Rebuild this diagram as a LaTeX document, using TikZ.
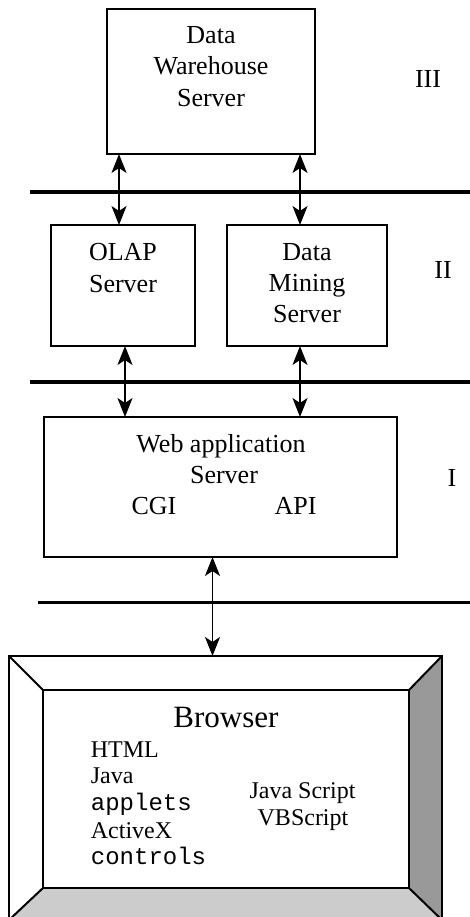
\documentclass[tikz,border=0pt]{standalone}
\usepackage{fontspec}
\setmainfont{Liberation Serif}
\setmonofont{Liberation Mono}
\usetikzlibrary{arrows.meta}
\begin{document}
\begin{tikzpicture}[x=1pt,y=1pt,
  box/.style={draw,line width=2pt,inner sep=0pt,outer sep=0pt},
  lbl/.style={anchor=base,inner sep=0pt,font=\fontsize{26}{31}\selectfont},
  btxt/.style={anchor=base west,inner sep=0pt,font=\fontsize{24}{27}\selectfont},
  bmono/.style={anchor=base west,inner sep=0pt,font=\fontsize{24}{27}\selectfont\ttfamily},
  bctr/.style={anchor=base,inner sep=0pt,font=\fontsize{24}{27}\selectfont},
  layer/.style={line width=4pt},
  arr/.style={line width=1.7pt,arrows={Stealth[length=19pt,width=15pt,inset=5pt]-Stealth[length=19pt,width=15pt,inset=5pt]}}]
\useasboundingbox (0,0) rectangle (470,-917);
\clip (0,0) rectangle (470,-917);

% boxes
\node[box,minimum width=208,minimum height=145] (dw) at (211,-81.5) {};
\node[box,minimum width=144,minimum height=121] (olap) at (123,-285.5) {};
\node[box,minimum width=160,minimum height=121] (dm) at (307,-285.5) {};
\node[box,minimum width=353,minimum height=140] (web) at (220.5,-487) {};

% box texts
\node[lbl] (t1) at (211,-43.5) {Data};
\node[lbl] (t2) at (211,-75) {Warehouse};
\node[lbl] (t3) at (211,-106.5) {Server};
\node[lbl] (t4) at (123,-260.5) {OLAP};
\node[lbl] (t5) at (123,-292) {Server};
\node[lbl] (t6) at (307,-260.5) {Data};
\node[lbl] (t7) at (307,-291.5) {Mining};
\node[lbl] (t8) at (307,-322.5) {Server};
\node[lbl] (t9) at (221,-452.5) {Web application};
\node[lbl] (t10) at (224,-483.5) {Server};
\node[lbl] (t11) at (154,-514) {CGI};
\node[lbl] (t12) at (295.5,-514) {API};

% tier labels
\node[lbl] (l3) at (428,-87.3) {III};
\node[lbl] (l2) at (443,-278.3) {II};
\node[lbl] (l1) at (452,-486) {I};

% layer lines
\draw[layer] (30,-192) -- (470,-192);
\draw[layer] (30,-382) -- (470,-382);
\draw[line width=3pt] (38,-602) -- (470,-602);

% browser
\node[inner sep=0pt,outer sep=0pt,minimum width=433,minimum height=264] (br) at (225.5,-788) {};
\node[inner sep=0pt,outer sep=0pt,minimum width=366,minimum height=198] (bri) at (226,-789) {};
\fill[black!20] (br.south west) -- (bri.south west) -- (bri.south east) -- (br.south east) -- cycle;
\fill[black!40] (br.south east) -- (bri.south east) -- (bri.north east) -- (br.north east) -- cycle;
\draw[line width=2pt] (br.south west) rectangle (br.north east);
\draw[line width=2pt] (bri.south west) rectangle (bri.north east);
\draw[line width=2pt] (br.north west) -- (bri.north west);
\draw[line width=2pt] (br.north east) -- (bri.north east);
\draw[line width=2pt] (br.south west) -- (bri.south west);
\draw[line width=2pt] (br.south east) -- (bri.south east);

\node[anchor=base,inner sep=0pt,font=\fontsize{31}{36}\selectfont] (bt) at (226,-727.3) {Browser};
\node[btxt] (b1) at (90.7,-757) {HTML};
\node[btxt] (b2) at (90.7,-783) {Java};
\node[bmono] (b3) at (90.7,-810) {applets};
\node[btxt] (b4) at (90.7,-838) {ActiveX};
\node[bmono] (b5) at (90.7,-864) {controls};
\node[bctr] (b6) at (302.5,-798) {Java Script};
\node[bctr] (b7) at (303,-825) {VBScript};

% connectors
\coordinate (a1) at (119,0);
\coordinate (a2) at (300,0);
\coordinate (a3) at (125,0);
\coordinate (a4) at (212.5,0);
\draw[arr] (dw.south -| a1) -- (olap.north -| a1);
\draw[arr] (dw.south -| a2) -- (dm.north -| a2);
\draw[arr] (olap.south -| a3) -- (web.north -| a3);
\draw[arr] (dm.south -| a2) -- (web.north -| a2);
\draw[arr] (web.south -| a4) -- (br.north -| a4);
\end{tikzpicture}
\end{document}
